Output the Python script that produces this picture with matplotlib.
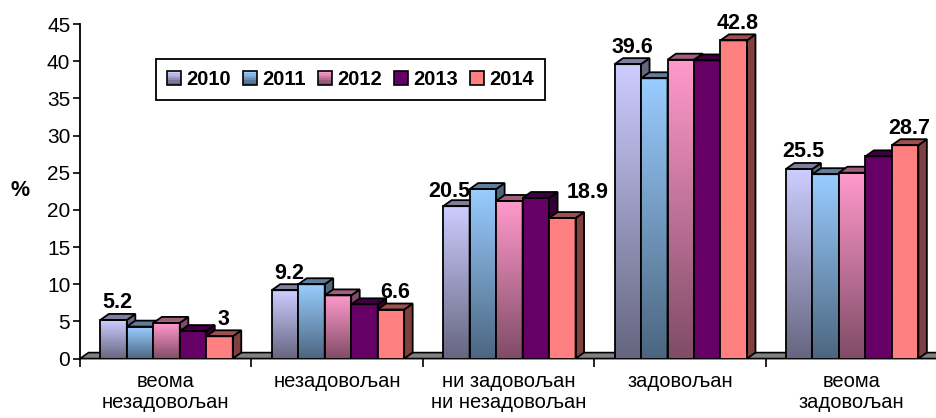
import numpy as np
import matplotlib.pyplot as plt
from matplotlib.patches import Polygon, Rectangle
from matplotlib.legend_handler import HandlerBase
from matplotlib.colors import to_rgb

plt.rcParams['font.family'] = ['Liberation Sans', 'DejaVu Sans']

categories = ['веома\nнезадовољан', 'незадовољан', 'ни задовољан\nни незадовољан',
              'задовољан', 'веома\nзадовољан']
years = ['2010', '2011', '2012', '2013', '2014']
v2010 = [5.2, 9.2, 20.5, 39.6, 25.5]
v2011 = [4.3, 10.0, 22.8, 37.7, 24.8]
v2012 = [4.8, 8.5, 21.2, 40.2, 25.0]
v2013 = [3.7, 7.3, 21.6, 40.1, 27.2]
v2014 = [3.0, 6.6, 18.9, 42.8, 28.7]
series = [v2010, v2011, v2012, v2013, v2014]

top_colors = ['#CCCCFF', '#99CCFF', '#FF99CC', '#660066', '#FF8080']
bottom_colors = ['#666680', '#4C6680', '#804C66', '#660066', '#FF8080']

W, H = 937, 418
fig = plt.figure(figsize=(W / 100, H / 100), dpi=100)
ax = fig.add_axes([80 / W, (H - 358.6) / H, 857 / W, (358.6 - 24) / H])
ax.set_xlim(0, 5)
ax.set_ylim(0, 45)

# depth of the fake 3d boxes, in data units
px_x = 1 / 171.4
px_y = 45 / 334.6
dx = 8.5 * px_x
dy = 6.0 * px_y
bw = 0.1545

# a couple of labels nudged sideways so they don't collide (pixels)
label_nudge = {(0, 2): (-11, -2), (4, 2): (21, 8)}


def shade(c, f):
    r, g, b = to_rgb(c)
    return (r * f, g * f, b * f)


def gradient(c1, c2, n=64):
    a = np.array(to_rgb(c1))
    b = np.array(to_rgb(c2))
    t = np.linspace(0, 1, n)[:, None]
    return (a * (1 - t) + b * t)[:, None, :]


# grey floor
floor = Polygon([(0, 0), (dx, dy), (5 + dx, dy), (5, 0)], closed=True,
                facecolor='#808080', edgecolor='black', lw=1.2, zorder=1, clip_on=False)
ax.add_patch(floor)

centers = np.arange(5) + 0.5
z = 2
for i in range(5):
    for j in range(5):
        h = series[j][i]
        x0 = centers[i] + (j - 2.5) * bw + 0.005
        bar = ax.bar(x0, h, width=bw, align='edge', facecolor='none',
                     edgecolor='black', lw=1.3, zorder=z + 0.5)[0]
        img = ax.imshow(gradient(top_colors[j], bottom_colors[j]),
                        extent=(x0, x0 + bw, 0, h), aspect='auto', zorder=z,
                        interpolation='bilinear')
        img.set_clip_path(bar)
        side = Polygon([(x0 + bw, 0), (x0 + bw + dx, dy), (x0 + bw + dx, h + dy), (x0 + bw, h)],
                       closed=True, facecolor=shade(top_colors[j], 0.5),
                       edgecolor='black', lw=1.3, zorder=z + 0.4)
        top = Polygon([(x0, h), (x0 + dx, h + dy), (x0 + bw + dx, h + dy), (x0 + bw, h)],
                      closed=True, facecolor=shade(top_colors[j], 0.62),
                      edgecolor='black', lw=1.3, zorder=z + 0.4)
        ax.add_patch(side)
        ax.add_patch(top)
        if j in (0, 4):
            nx, ny = label_nudge.get((j, i), (0, 0))
            ax.text(x0 + bw / 2 + dx / 2 + nx * px_x, h + dy + 0.75 + ny * px_y, f'{h:g}',
                    ha='center', va='baseline', fontsize=15.5, fontweight='bold',
                    zorder=z + 0.6)
        z += 1

ax.set_xlim(0, 5)
ax.set_ylim(0, 45)

for s in ['top', 'right', 'bottom']:
    ax.spines[s].set_visible(False)
ax.spines['left'].set_linewidth(1.3)

ax.set_yticks(np.arange(0, 46, 5))
ax.tick_params(axis='y', direction='out', length=5, width=1.2, pad=2, labelsize=15)
ax.set_xticks(centers)
ax.set_xticklabels(categories, fontsize=14.5, linespacing=1.1)
ax.set_xticks(np.arange(0, 6), minor=True)
ax.tick_params(axis='x', which='major', length=0, pad=10)
ax.tick_params(axis='x', which='minor', direction='out', length=6, width=1.2)

fig.text(20 / W, 1 - 191 / H, '%', fontsize=15.5, fontweight='bold', ha='center', va='center')


class GradientHandler(HandlerBase):
    def __init__(self, c1, c2):
        super().__init__()
        self.c1, self.c2 = c1, c2

    def create_artists(self, legend, orig_handle, xdescent, ydescent, width, height, fontsize, trans):
        side = min(width, height)
        x0 = -xdescent + (width - side) / 2
        y0 = -ydescent + (height - side) / 2
        cols = gradient(self.c1, self.c2, 6)[:, 0, :]
        arts = []
        n = len(cols)
        for k, c in enumerate(cols):
            arts.append(Rectangle((x0, y0 + side * (n - 1 - k) / n), side, side / n,
                                  facecolor=c, edgecolor='none', transform=trans))
        arts.append(Rectangle((x0, y0), side, side, facecolor='none', edgecolor='black',
                              lw=1.2, transform=trans))
        return arts


handles = [Rectangle((0, 0), 1, 1) for _ in years]
hmap = {h: GradientHandler(top_colors[k], bottom_colors[k]) for k, h in enumerate(handles)}
leg = fig.legend(handles, years, handler_map=hmap, loc='center',
                 bbox_to_anchor=((153 + 548) / 2 / W, 1 - (60 + 99) / 2 / H),
                 ncol=5, prop={'weight': 'bold', 'size': 14.5},
                 frameon=True, fancybox=False, edgecolor='black', framealpha=1,
                 handlelength=0.7, handleheight=0.7, handletextpad=0.25, columnspacing=0.6,
                 borderpad=0.55, borderaxespad=0)
leg.get_frame().set_linewidth(1.3)

fig.savefig('out.png', dpi=100)
